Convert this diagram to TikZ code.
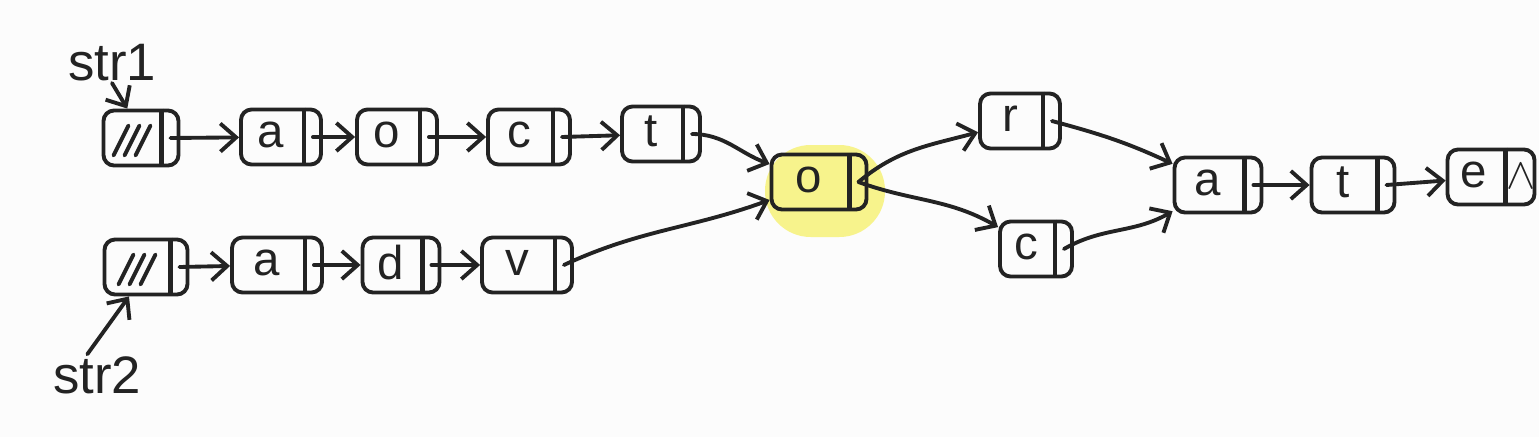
\documentclass[tikz,border=0pt]{standalone}
\usepackage{fontspec}
\setmainfont{Liberation Sans}
\usetikzlibrary{arrows.meta, positioning, calc}
\definecolor{inkc}{HTML}{232323}
\definecolor{hilc}{HTML}{F7F38C}
\definecolor{bgc}{HTML}{FCFCFC}
\newcommand{\cell}[4]{%
  \node[cell, minimum width=#3] (#1) at #2 {};
  \coordinate (#1p) at ($(#1.east)+(-0.2,0)$);
  \draw[inkc, line width=2.4pt]
    ($(#1.north east)+(-0.38,0)$) -- ($(#1.south east)+(-0.38,0)$);
  \node[letter] (#1l) at ($(#1.center)+(-0.2,0.05)$) {#4};
}
\newcommand{\headcell}[3]{%
  \node[cell, minimum width=#3] (#1) at #2 {};
  \coordinate (#1p) at ($(#1.east)+(-0.2,0)$);
  \draw[inkc, line width=2.4pt]
    ($(#1.north east)+(-0.38,0)$) -- ($(#1.south east)+(-0.38,0)$);
  \foreach \k in {0,1,2}
    \draw[inkc, line width=2.2pt, line cap=round]
      ($(#1.center)+(-0.55+\k*0.22,-0.35)$) -- ++(0.3,0.6);
}

\begin{document}
\begin{tikzpicture}[x=1cm, y=1cm,
    cell/.style={draw=inkc, line width=2.2pt, rounded corners=6pt,
      minimum height=1.1cm, inner sep=0pt},
    letter/.style={inkc, font=\fontsize{27}{29}\selectfont},
    arrow/.style={-{Straight Barb[length=9pt, width=16pt]}, draw=inkc,
      line width=2.2pt, line cap=round},
    label/.style={inkc, inner sep=1pt, font=\fontsize{30}{32}\selectfont}]
  \fill[bgc] (0,0) rectangle (30.78,-8.74);
  \useasboundingbox (0,0) rectangle (30.78,-8.74);
  % highlight of the shared node
  \fill[hilc, rounded corners=26pt] (15.3,-2.9) rectangle (17.7,-4.74);
  % str1
  \headcell{t0}{(2.82,-2.76)}{1.5cm}
  \cell{t1}{(5.62,-2.74)}{1.6cm}{a}
  \cell{t2}{(7.94,-2.74)}{1.6cm}{o}
  \cell{t3}{(10.58,-2.74)}{1.64cm}{c}
  \cell{t4}{(13.22,-2.68)}{1.56cm}{t}
  % str2
  \headcell{b0}{(2.92,-5.34)}{1.66cm}
  \cell{b1}{(5.54,-5.3)}{1.8cm}{a}
  \cell{b2}{(8.02,-5.3)}{1.54cm}{d}
  \cell{b3}{(10.54,-5.3)}{1.8cm}{v}
  % shared part
  \cell{m}{(16.38,-3.64)}{1.9cm}{o}
  \cell{r}{(20.4,-2.42)}{1.6cm}{r}
  \cell{c}{(20.72,-4.98)}{1.44cm}{c}
  \cell{s1}{(24.36,-3.7)}{1.74cm}{a}
  \cell{s2}{(27.06,-3.7)}{1.66cm}{t}
  \node[cell, minimum width=1.74cm] (s3) at (29.82,-3.54) {};
  \draw[inkc, line width=2.4pt]
    ($(s3.north east)+(-0.62,0)$) -- ($(s3.south east)+(-0.62,0)$);
  \node[letter] (s3l) at ($(s3.center)+(-0.35,0.05)$) {e};
  \node[letter, font=\fontsize{30}{32}\selectfont] (s3n)
    at ($(s3.east)+(-0.3,0.02)$) {$\wedge$};
  \node[label] (str1) at (2.24,-1.25) {str1};
  \node[label] (str2) at (1.94,-7.5) {str2};
  \draw[arrow] (str1.south) -- (t0.115);
  \draw[arrow] (str2.115) -- (b0.240);
  \foreach \i/\j in {t0/t1, t1/t2, t2/t3, t3/t4, b0/b1, b1/b2, b2/b3,
      s1/s2, s2/s3}
    \draw[arrow] (\i p) -- (\j);
  \draw[arrow] (t4p) to[out=0, in=160] (m);
  \draw[arrow] (b3p) to[out=25, in=200] (m);
  \draw[arrow] (mp) to[out=40, in=195] (r);
  \draw[arrow] (mp) to[out=-20, in=150] (c);
  \draw[arrow] (rp) to[out=-15, in=155] (s1);
  \draw[arrow] (cp) to[out=30, in=210] (s1);
\end{tikzpicture}
\end{document}
